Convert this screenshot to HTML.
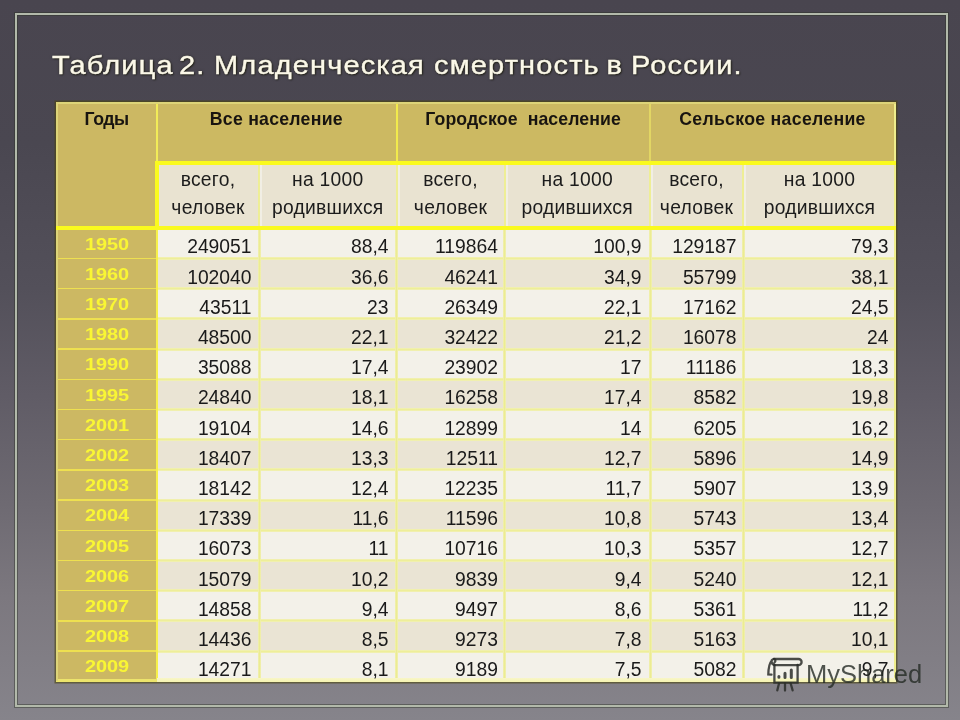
<!DOCTYPE html><html><head><meta charset="utf-8"><title>Таблица 2</title><style>
*{margin:0;padding:0;box-sizing:border-box}
html,body{width:960px;height:720px;overflow:hidden}
body{position:relative;font-family:"Liberation Sans",Arial,sans-serif;
background:linear-gradient(180deg,#49454f 0%,#4a4751 20%,#53505a 40%,#605c66 55%,#6e6a72 70%,#7c787f 83%,#86848b 100%);}
.a{position:absolute}
.frame{position:absolute;left:15px;top:13px;width:933px;height:694px;border:2px solid #b2b9aa;box-shadow:0 0 0 1px rgba(45,52,38,.45),inset 0 0 0 1px rgba(45,52,38,.45);}
.title{position:absolute;top:0;font-size:29px;color:#fbf8e8;letter-spacing:1.15px;white-space:pre;transform:scaleY(.91);transform-origin:0 22px;
text-shadow:1px 1px 2px rgba(20,20,0,.75),0 0 3px rgba(30,30,10,.5);line-height:1;-webkit-text-stroke:.45px #fbf8e8}
.tan{background:#ccb962}
.yc{background:#ccb863}
.hb{position:absolute;font-weight:700;font-size:17.7px;color:#181410;white-space:pre;line-height:20px}
.sh{position:absolute;font-size:19.3px;color:#1c1c1c;white-space:pre;line-height:20px;text-align:center}
.d{position:absolute;font-size:19.3px;color:#1a1a1a;white-space:pre;line-height:20px;text-align:right;width:120px}
.y{position:absolute;font-weight:700;font-size:19.9px;color:#f9f634;letter-spacing:0;white-space:pre;line-height:20px;text-align:center;width:101px;left:56.5px;transform:scaleY(.875);transform-origin:50% 16px}
.lt{background:#f3f1e9}
.dk{background:#eae4d4}
.vl{position:absolute;width:3px;background:linear-gradient(90deg,#f1f0b4,#ecec92 50%,#f1f0b4)}
.hl{position:absolute;height:3px;background:linear-gradient(#f2f1b8,#eeee9a 50%,#f2f1b8)}
</style></head><body>
<div class="frame"></div>
<div class="title" style="left:52px;top:49.6px">Таблица</div>
<div class="title" style="left:179px;top:49.6px">2.</div>
<div class="title" style="left:214px;top:49.6px">Младенческая</div>
<div class="title" style="left:434px;top:49.6px">смертность</div>
<div class="title" style="left:606.5px;top:49.6px">в</div>
<div class="title" style="left:631px;top:49.6px">России.</div>
<div class="a tan" style="left:56px;top:102px;width:840px;height:59px"></div>
<div class="a yc" style="left:56px;top:102px;width:101px;height:579px"></div>
<div class="a" style="left:56px;top:102px;width:840px;height:580px;box-shadow:0 0 0 1.5px rgba(75,70,18,.62)"></div>
<div class="a" style="left:156px;top:102px;width:2px;height:60px;background:#f2ec58"></div>
<div class="a" style="left:395.5px;top:102px;width:2px;height:60px;background:#f2ea4c"></div>
<div class="a" style="left:649px;top:102px;width:2px;height:60px;background:#e2d664"></div>
<div class="a" style="left:159px;top:165px;width:737px;height:61px;background:#e9e3d1"></div>
<div class="a" style="left:258px;top:165px;width:2px;height:61px;background:#eeee96"></div>
<div class="a" style="left:260px;top:165px;width:2px;height:61px;background:#f1eee4"></div>
<div class="a" style="left:395.5px;top:165px;width:2px;height:61px;background:#eeee96"></div>
<div class="a" style="left:397.5px;top:165px;width:2px;height:61px;background:#f1eee4"></div>
<div class="a" style="left:503.5px;top:165px;width:2px;height:61px;background:#eeee96"></div>
<div class="a" style="left:505.5px;top:165px;width:2px;height:61px;background:#f1eee4"></div>
<div class="a" style="left:649px;top:165px;width:2px;height:61px;background:#eeee96"></div>
<div class="a" style="left:651px;top:165px;width:2px;height:61px;background:#f1eee4"></div>
<div class="a" style="left:742px;top:165px;width:2px;height:61px;background:#eeee96"></div>
<div class="a" style="left:744px;top:165px;width:2px;height:61px;background:#f1eee4"></div>
<div class="a lt" style="left:158px;top:228.0px;width:738px;height:30.2px"></div>
<div class="a dk" style="left:158px;top:258.2px;width:738px;height:30.2px"></div>
<div class="a lt" style="left:158px;top:288.4px;width:738px;height:30.2px"></div>
<div class="a dk" style="left:158px;top:318.6px;width:738px;height:30.2px"></div>
<div class="a lt" style="left:158px;top:348.8px;width:738px;height:30.2px"></div>
<div class="a dk" style="left:158px;top:379.0px;width:738px;height:30.2px"></div>
<div class="a lt" style="left:158px;top:409.2px;width:738px;height:30.2px"></div>
<div class="a dk" style="left:158px;top:439.4px;width:738px;height:30.2px"></div>
<div class="a lt" style="left:158px;top:469.6px;width:738px;height:30.2px"></div>
<div class="a dk" style="left:158px;top:499.8px;width:738px;height:30.2px"></div>
<div class="a lt" style="left:158px;top:530.0px;width:738px;height:30.2px"></div>
<div class="a dk" style="left:158px;top:560.2px;width:738px;height:30.2px"></div>
<div class="a lt" style="left:158px;top:590.4px;width:738px;height:30.2px"></div>
<div class="a dk" style="left:158px;top:620.6px;width:738px;height:30.2px"></div>
<div class="a lt" style="left:158px;top:650.8px;width:738px;height:30.2px"></div>
<div class="hl" style="left:158px;top:256.9px;width:738px"></div>
<div class="a" style="left:56px;top:257.7px;width:101px;height:1.5px;background:#eee050"></div>
<div class="hl" style="left:158px;top:287.1px;width:738px"></div>
<div class="a" style="left:56px;top:287.9px;width:101px;height:1.5px;background:#eee050"></div>
<div class="hl" style="left:158px;top:317.3px;width:738px"></div>
<div class="a" style="left:56px;top:318.1px;width:101px;height:1.5px;background:#eee050"></div>
<div class="hl" style="left:158px;top:347.5px;width:738px"></div>
<div class="a" style="left:56px;top:348.3px;width:101px;height:1.5px;background:#eee050"></div>
<div class="hl" style="left:158px;top:377.7px;width:738px"></div>
<div class="a" style="left:56px;top:378.5px;width:101px;height:1.5px;background:#eee050"></div>
<div class="hl" style="left:158px;top:407.9px;width:738px"></div>
<div class="a" style="left:56px;top:408.7px;width:101px;height:1.5px;background:#eee050"></div>
<div class="hl" style="left:158px;top:438.1px;width:738px"></div>
<div class="a" style="left:56px;top:438.9px;width:101px;height:1.5px;background:#eee050"></div>
<div class="hl" style="left:158px;top:468.3px;width:738px"></div>
<div class="a" style="left:56px;top:469.1px;width:101px;height:1.5px;background:#eee050"></div>
<div class="hl" style="left:158px;top:498.5px;width:738px"></div>
<div class="a" style="left:56px;top:499.3px;width:101px;height:1.5px;background:#eee050"></div>
<div class="hl" style="left:158px;top:528.7px;width:738px"></div>
<div class="a" style="left:56px;top:529.5px;width:101px;height:1.5px;background:#eee050"></div>
<div class="hl" style="left:158px;top:558.9px;width:738px"></div>
<div class="a" style="left:56px;top:559.7px;width:101px;height:1.5px;background:#eee050"></div>
<div class="hl" style="left:158px;top:589.1px;width:738px"></div>
<div class="a" style="left:56px;top:589.9px;width:101px;height:1.5px;background:#eee050"></div>
<div class="hl" style="left:158px;top:619.3px;width:738px"></div>
<div class="a" style="left:56px;top:620.1px;width:101px;height:1.5px;background:#eee050"></div>
<div class="hl" style="left:158px;top:649.5px;width:738px"></div>
<div class="a" style="left:56px;top:650.3px;width:101px;height:1.5px;background:#eee050"></div>
<div class="vl" style="left:257.5px;top:228px;height:453px"></div>
<div class="vl" style="left:395.0px;top:228px;height:453px"></div>
<div class="vl" style="left:503.0px;top:228px;height:453px"></div>
<div class="vl" style="left:648.5px;top:228px;height:453px"></div>
<div class="vl" style="left:741.5px;top:228px;height:453px"></div>
<div class="a" style="left:156px;top:228px;width:2px;height:453px;background:#f6f04a"></div>
<div class="a" style="left:894px;top:102px;width:2px;height:579px;background:#efee8c"></div>
<div class="a" style="left:157px;top:678px;width:739px;height:4px;background:linear-gradient(#f8f6c8,#f6f4b0)"></div>
<div class="a" style="left:56px;top:679px;width:101px;height:3px;background:#ece46c"></div>
<div class="a" style="left:56px;top:102px;width:1.5px;height:579px;background:#ddd478"></div>
<div class="a" style="left:56px;top:102px;width:840px;height:2px;background:#ddd478"></div>
<div class="a" style="left:155px;top:161px;width:741px;height:4px;background:#fafa1e"></div>
<div class="a" style="left:155px;top:161px;width:4px;height:69px;background:#fafa1e"></div>
<div class="a" style="left:56px;top:226px;width:840px;height:4px;background:#fafa1e"></div>
<div class="hb" style="left:84.6px;top:109px;letter-spacing:-0.5px">Годы</div>
<div class="hb" style="left:209.8px;top:109px;letter-spacing:0.25px">Все население</div>
<div class="hb" style="left:425.3px;top:109px;letter-spacing:0.1px">Городское  население</div>
<div class="hb" style="left:679.2px;top:109px;letter-spacing:0.3px">Сельское население</div>
<div class="sh" style="left:138.0px;width:140px;top:169.5px;letter-spacing:.25px">всего,</div>
<div class="sh" style="left:138.0px;width:140px;top:198.3px;letter-spacing:.25px">человек</div>
<div class="sh" style="left:257.8px;width:140px;top:169.5px;letter-spacing:.25px">на 1000</div>
<div class="sh" style="left:257.8px;width:140px;top:198.3px;letter-spacing:.25px">родившихся</div>
<div class="sh" style="left:380.5px;width:140px;top:169.5px;letter-spacing:.25px">всего,</div>
<div class="sh" style="left:380.5px;width:140px;top:198.3px;letter-spacing:.25px">человек</div>
<div class="sh" style="left:507.2px;width:140px;top:169.5px;letter-spacing:.25px">на 1000</div>
<div class="sh" style="left:507.2px;width:140px;top:198.3px;letter-spacing:.25px">родившихся</div>
<div class="sh" style="left:626.5px;width:140px;top:169.5px;letter-spacing:.25px">всего,</div>
<div class="sh" style="left:626.5px;width:140px;top:198.3px;letter-spacing:.25px">человек</div>
<div class="sh" style="left:749.5px;width:140px;top:169.5px;letter-spacing:.25px">на 1000</div>
<div class="sh" style="left:749.5px;width:140px;top:198.3px;letter-spacing:.25px">родившихся</div>
<div class="y" style="top:232.6px">1950</div>
<div class="d" style="left:131.5px;top:237.3px">249051</div>
<div class="d" style="left:268.5px;top:237.3px">88,4</div>
<div class="d" style="left:378.0px;top:237.3px">119864</div>
<div class="d" style="left:521.5px;top:237.3px">100,9</div>
<div class="d" style="left:616.5px;top:237.3px">129187</div>
<div class="d" style="left:768.5px;top:237.3px">79,3</div>
<div class="y" style="top:262.8px">1960</div>
<div class="d" style="left:131.5px;top:267.5px">102040</div>
<div class="d" style="left:268.5px;top:267.5px">36,6</div>
<div class="d" style="left:378.0px;top:267.5px">46241</div>
<div class="d" style="left:521.5px;top:267.5px">34,9</div>
<div class="d" style="left:616.5px;top:267.5px">55799</div>
<div class="d" style="left:768.5px;top:267.5px">38,1</div>
<div class="y" style="top:293.0px">1970</div>
<div class="d" style="left:131.5px;top:297.7px">43511</div>
<div class="d" style="left:268.5px;top:297.7px">23</div>
<div class="d" style="left:378.0px;top:297.7px">26349</div>
<div class="d" style="left:521.5px;top:297.7px">22,1</div>
<div class="d" style="left:616.5px;top:297.7px">17162</div>
<div class="d" style="left:768.5px;top:297.7px">24,5</div>
<div class="y" style="top:323.2px">1980</div>
<div class="d" style="left:131.5px;top:327.9px">48500</div>
<div class="d" style="left:268.5px;top:327.9px">22,1</div>
<div class="d" style="left:378.0px;top:327.9px">32422</div>
<div class="d" style="left:521.5px;top:327.9px">21,2</div>
<div class="d" style="left:616.5px;top:327.9px">16078</div>
<div class="d" style="left:768.5px;top:327.9px">24</div>
<div class="y" style="top:353.4px">1990</div>
<div class="d" style="left:131.5px;top:358.1px">35088</div>
<div class="d" style="left:268.5px;top:358.1px">17,4</div>
<div class="d" style="left:378.0px;top:358.1px">23902</div>
<div class="d" style="left:521.5px;top:358.1px">17</div>
<div class="d" style="left:616.5px;top:358.1px">11186</div>
<div class="d" style="left:768.5px;top:358.1px">18,3</div>
<div class="y" style="top:383.6px">1995</div>
<div class="d" style="left:131.5px;top:388.3px">24840</div>
<div class="d" style="left:268.5px;top:388.3px">18,1</div>
<div class="d" style="left:378.0px;top:388.3px">16258</div>
<div class="d" style="left:521.5px;top:388.3px">17,4</div>
<div class="d" style="left:616.5px;top:388.3px">8582</div>
<div class="d" style="left:768.5px;top:388.3px">19,8</div>
<div class="y" style="top:413.8px">2001</div>
<div class="d" style="left:131.5px;top:418.5px">19104</div>
<div class="d" style="left:268.5px;top:418.5px">14,6</div>
<div class="d" style="left:378.0px;top:418.5px">12899</div>
<div class="d" style="left:521.5px;top:418.5px">14</div>
<div class="d" style="left:616.5px;top:418.5px">6205</div>
<div class="d" style="left:768.5px;top:418.5px">16,2</div>
<div class="y" style="top:444.0px">2002</div>
<div class="d" style="left:131.5px;top:448.7px">18407</div>
<div class="d" style="left:268.5px;top:448.7px">13,3</div>
<div class="d" style="left:378.0px;top:448.7px">12511</div>
<div class="d" style="left:521.5px;top:448.7px">12,7</div>
<div class="d" style="left:616.5px;top:448.7px">5896</div>
<div class="d" style="left:768.5px;top:448.7px">14,9</div>
<div class="y" style="top:474.2px">2003</div>
<div class="d" style="left:131.5px;top:478.9px">18142</div>
<div class="d" style="left:268.5px;top:478.9px">12,4</div>
<div class="d" style="left:378.0px;top:478.9px">12235</div>
<div class="d" style="left:521.5px;top:478.9px">11,7</div>
<div class="d" style="left:616.5px;top:478.9px">5907</div>
<div class="d" style="left:768.5px;top:478.9px">13,9</div>
<div class="y" style="top:504.4px">2004</div>
<div class="d" style="left:131.5px;top:509.1px">17339</div>
<div class="d" style="left:268.5px;top:509.1px">11,6</div>
<div class="d" style="left:378.0px;top:509.1px">11596</div>
<div class="d" style="left:521.5px;top:509.1px">10,8</div>
<div class="d" style="left:616.5px;top:509.1px">5743</div>
<div class="d" style="left:768.5px;top:509.1px">13,4</div>
<div class="y" style="top:534.6px">2005</div>
<div class="d" style="left:131.5px;top:539.3px">16073</div>
<div class="d" style="left:268.5px;top:539.3px">11</div>
<div class="d" style="left:378.0px;top:539.3px">10716</div>
<div class="d" style="left:521.5px;top:539.3px">10,3</div>
<div class="d" style="left:616.5px;top:539.3px">5357</div>
<div class="d" style="left:768.5px;top:539.3px">12,7</div>
<div class="y" style="top:564.8px">2006</div>
<div class="d" style="left:131.5px;top:569.5px">15079</div>
<div class="d" style="left:268.5px;top:569.5px">10,2</div>
<div class="d" style="left:378.0px;top:569.5px">9839</div>
<div class="d" style="left:521.5px;top:569.5px">9,4</div>
<div class="d" style="left:616.5px;top:569.5px">5240</div>
<div class="d" style="left:768.5px;top:569.5px">12,1</div>
<div class="y" style="top:595.0px">2007</div>
<div class="d" style="left:131.5px;top:599.7px">14858</div>
<div class="d" style="left:268.5px;top:599.7px">9,4</div>
<div class="d" style="left:378.0px;top:599.7px">9497</div>
<div class="d" style="left:521.5px;top:599.7px">8,6</div>
<div class="d" style="left:616.5px;top:599.7px">5361</div>
<div class="d" style="left:768.5px;top:599.7px">11,2</div>
<div class="y" style="top:625.2px">2008</div>
<div class="d" style="left:131.5px;top:629.9px">14436</div>
<div class="d" style="left:268.5px;top:629.9px">8,5</div>
<div class="d" style="left:378.0px;top:629.9px">9273</div>
<div class="d" style="left:521.5px;top:629.9px">7,8</div>
<div class="d" style="left:616.5px;top:629.9px">5163</div>
<div class="d" style="left:768.5px;top:629.9px">10,1</div>
<div class="y" style="top:655.4px">2009</div>
<div class="d" style="left:131.5px;top:660.1px">14271</div>
<div class="d" style="left:268.5px;top:660.1px">8,1</div>
<div class="d" style="left:378.0px;top:660.1px">9189</div>
<div class="d" style="left:521.5px;top:660.1px">7,5</div>
<div class="d" style="left:616.5px;top:660.1px">5082</div>
<div class="d" style="left:768.5px;top:660.1px">9,7</div>
<svg class="a" style="left:762px;top:652px" width="44" height="42" viewBox="0 0 44 42" fill="none" stroke="rgba(44,46,42,.85)" stroke-width="2.3" stroke-linecap="round">
<path d="M12 7 H36.5 A3.1 3.1 0 0 1 36.5 13.2 H12.5"/>
<path d="M12.5 13 C9 12 8.5 8 11.5 7 C13.5 6.5 14 9 12.5 10.5 M9.5 9 C7.5 11 6.5 15 6.3 22.5 L9.5 22.6"/>
<path d="M12.4 13 V30.6 H35.6 V13"/>
<path d="M16.9 24.6 V25.2 M23 21.2 V25.6 M29.3 18 V25.6" stroke-width="3"/>
<path d="M17 31.5 L15.3 38.3 M23 31.5 V38.5 M28.7 31.5 L30.6 38.3"/>
</svg>
<div class="a" style="left:806px;top:659px;font-size:25.5px;color:rgba(36,42,36,.8);letter-spacing:0px;line-height:30px;white-space:pre">MyShared</div>
</body></html>
